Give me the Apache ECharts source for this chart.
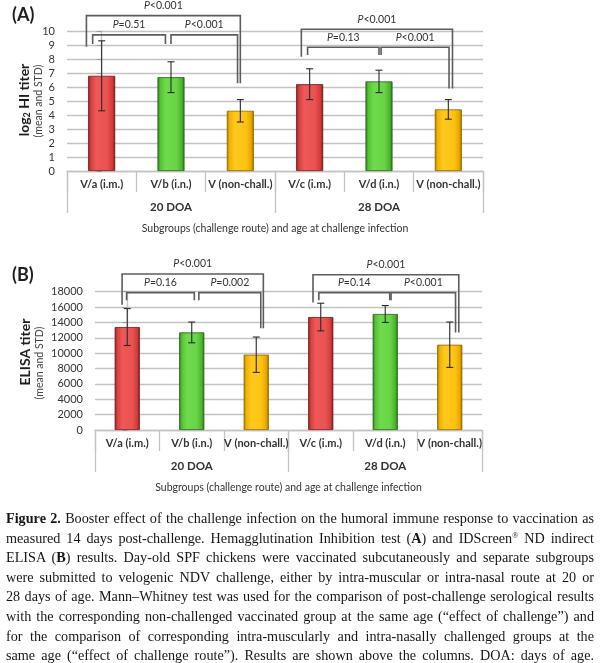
<!DOCTYPE html>
<html>
<head>
<meta charset="utf-8">
<script src="https://cdn.jsdelivr.net/npm/echarts@6/dist/echarts.min.js"></script>
<style>
html,body{margin:0;padding:0;background:#fff;}
#chart{position:absolute;left:0;top:0;width:600px;height:663px;}
#cap{position:absolute;left:6px;top:509px;width:588px;font-family:"Liberation Serif","DejaVu Serif",serif;font-size:14.2px;line-height:19.6px;color:#161616;}
#cap div{text-align:justify;text-align-last:justify;height:19.6px;overflow:visible;}
#cap sup{font-size:8px;line-height:0;vertical-align:5px;}
</style>
</head>
<body>
<div id="chart"></div>
<div id="cap">
<div><b>Figure 2.</b> Booster effect of the challenge infection on the humoral immune response to vaccination as</div>
<div>measured 14 days post-challenge. Hemagglutination Inhibition test (<b>A</b>) and IDScreen<sup>®</sup> ND indirect</div>
<div>ELISA (<b>B</b>) results. Day-old SPF chickens were vaccinated subcutaneously and separate subgroups</div>
<div>were submitted to velogenic NDV challenge, either by intra-muscular or intra-nasal route at 20 or</div>
<div>28 days of age. Mann–Whitney test was used for the comparison of post-challenge serological results</div>
<div>with the corresponding non-challenged vaccinated group at the same age (“effect of challenge”) and</div>
<div>for the comparison of corresponding intra-muscularly and intra-nasally challenged groups at the</div>
<div>same age (“effect of challenge route”). Results are shown above the columns. DOA: days of age.</div>
</div>
<script>
// ---------- data ----------
const categories = ['V/a (i.m.)', 'V/b (i.n.)', 'V (non-chall.)', 'V/c (i.m.)', 'V/d (i.n.)', 'V (non-chall.)'];
const groups = ['20 DOA', '28 DOA'];
const hiMean = [6.8, 6.7, 4.3, 6.2, 6.4, 4.4];
const hiStd = [2.5, 1.1, 0.8, 1.1, 0.8, 0.7];
const elisaMean = [13400, 12700, 9800, 14700, 15100, 11100];
const elisaStd = [2400, 1350, 2300, 1800, 1100, 2950];
const hiAxis = {min: 0, max: 10, interval: 1};
const elisaAxis = {min: 0, max: 18000, interval: 2000};
// comparison brackets: [x from, x to, bracket level, left leg end, right leg end] in data units
const hiBrackets = [
  [-0.22, 2.0, 11.1, 8.88, 6.27],
  [-0.13, 0.92, 9.72, 9.07, 9.07],
  [1.0, 1.96, 9.72, 9.07, 6.27],
  [2.88, 5.06, 10.12, 8.16, 5.9],
  [2.97, 4.0, 8.84, 8.29, 8.29],
  [4.03, 5.01, 8.84, 8.29, 5.9]
];
const hiPLabels = ['P<0.001', 'P=0.51', 'P<0.001', 'P<0.001', 'P=0.13', 'P<0.001'];
const elisaBrackets = [
  [-0.08, 2.11, 20300, 16300, 13250],
  [-0.01, 1.04, 17880, 16900, 16900],
  [1.11, 2.07, 17880, 16900, 13250],
  [2.88, 5.14, 20200, 16600, 12700],
  [2.97, 4.07, 17880, 16900, 16900],
  [4.09, 5.09, 17880, 16900, 12700]
];
const elisaPLabels = ['P<0.001', 'P=0.16', 'P=0.002', 'P<0.001', 'P=0.14', 'P<0.001'];

// ---------- styles ----------
const FONT = 'Lato, "Open Sans", sans-serif';
const TXT = '#333';
const GRID_C = '#c3c3c3';
function grad(stops) {
  return new echarts.graphic.LinearGradient(0, 0, 1, 0, stops.map((c) => ({offset: c[0], color: c[1]})));
}
const barFill = [
  grad([[0, '#8a1d1d'], [0.1, '#d63f3f'], [0.3, '#ef5858'], [0.7, '#eb5252'], [0.9, '#d03b3b'], [1, '#761818']]),
  grad([[0, '#2c761a'], [0.1, '#55c034'], [0.3, '#6ddb4c'], [0.7, '#67d547'], [0.9, '#4db22e'], [1, '#286a17']]),
  grad([[0, '#a47400'], [0.1, '#efb200'], [0.3, '#ffc81e'], [0.7, '#ffc412'], [0.9, '#e6a800'], [1, '#966b00']])
];
const barBorder = ['#6e1616', '#25611a', '#8e6500'];
const colorIdx = [0, 1, 2, 0, 1, 2];

function barData(means) {
  return means.map((v, i) => ({value: v, itemStyle: {color: barFill[colorIdx[i]], borderColor: barBorder[colorIdx[i]], borderWidth: 0.8}}));
}
function errData(means, stds) {
  return means.map((m, i) => [i, m - stds[i], m + stds[i]]);
}
function errRender(params, api) {
  const x = api.value(0);
  const lo = api.coord([x, api.value(1)]);
  const hi = api.coord([x, api.value(2)]);
  const cap = 3.5;
  const st = {stroke: '#2a2a2a', lineWidth: 1.1};
  return {type: 'group', children: [
    {type: 'line', shape: {x1: lo[0], y1: lo[1], x2: hi[0], y2: hi[1]}, style: st},
    {type: 'line', shape: {x1: hi[0] - cap, y1: hi[1], x2: hi[0] + cap, y2: hi[1]}, style: st},
    {type: 'line', shape: {x1: lo[0] - cap, y1: lo[1], x2: lo[0] + cap, y2: lo[1]}, style: st}
  ]};
}
function makeBracketRender(labels) {
  return function (params, api) {
    const x1 = api.value(0), x2 = api.value(1), y = api.value(2), yl = api.value(3), yr = api.value(4);
    const a = api.coord([x1, yl]), b = api.coord([x1, y]), c = api.coord([x2, y]), d = api.coord([x2, yr]);
    const lab = labels[params.dataIndex];
    return {type: 'group', children: [
      {type: 'polyline', shape: {points: [a, b, c, d]}, style: {stroke: '#5c5c5c', lineWidth: 1.6, fill: null}},
      {type: 'text', x: (b[0] + c[0]) / 2, y: b[1] - 10, style: {
        text: '{i|' + lab.charAt(0) + '}{n|' + lab.slice(1) + '}',
        align: 'center', verticalAlign: 'middle',
        rich: {i: {fontStyle: 'italic', fontSize: 10.5, fontFamily: FONT, fill: TXT}, n: {fontSize: 10.5, fontFamily: FONT, fill: TXT}}
      }}
    ]};
  };
}

function catAxis(gridIndex) {
  return {
    type: 'category', gridIndex, data: categories, position: 'bottom',
    axisLine: {show: true, lineStyle: {color: GRID_C, width: 1.3}},
    axisTick: {show: true, interval: 0, length: 21, lineStyle: {color: GRID_C, width: 1.3}},
    axisLabel: {interval: 0, margin: 8, color: TXT, fontFamily: FONT, fontWeight: 'bold', fontSize: 11}
  };
}
function groupAxis(gridIndex) {
  return {
    type: 'category', gridIndex, data: groups, position: 'bottom',
    axisLine: {show: false},
    axisTick: {show: true, interval: 0, length: 42, lineStyle: {color: GRID_C, width: 1.3}},
    axisLabel: {interval: 0, margin: 30, color: TXT, fontFamily: FONT, fontWeight: 'bold', fontSize: 11.5},
    name: 'Subgroups (challenge route) and age at challenge infection',
    nameLocation: 'middle', nameGap: 52,
    nameTextStyle: {color: TXT, fontFamily: FONT, fontSize: 10.5}
  };
}
function valAxisX(gridIndex) {
  return {type: 'value', gridIndex, min: -0.5, max: 5.5, show: false, splitLine: {show: false}};
}
function yAx(gridIndex, cfg) {
  return {
    type: 'value', gridIndex, min: cfg.min, max: cfg.max, interval: cfg.interval,
    axisLine: {show: true, lineStyle: {color: GRID_C, width: 1.3}},
    axisTick: {show: true, length: 5, lineStyle: {color: '#9a9a9a'}},
    axisLabel: {margin: 12, color: TXT, fontFamily: FONT, fontSize: 11, formatter: (v) => String(v)},
    splitLine: {show: true, lineStyle: {color: GRID_C, width: 1.4}}
  };
}

const chart = echarts.init(document.getElementById('chart'), null, {renderer: 'canvas'});
chart.setOption({
  animation: false,
  backgroundColor: '#fff',
  textStyle: {fontFamily: FONT},
  grid: [
    {left: 67, top: 31, width: 416, height: 140},
    {left: 95, top: 291.7, width: 387, height: 138.3}
  ],
  xAxis: [catAxis(0), groupAxis(0), valAxisX(0), catAxis(1), groupAxis(1), valAxisX(1)],
  yAxis: [yAx(0, hiAxis), yAx(1, elisaAxis)],
  series: [
    {type: 'bar', xAxisIndex: 0, yAxisIndex: 0, barWidth: '39%', data: barData(hiMean)},
    {type: 'custom', xAxisIndex: 2, yAxisIndex: 0, clip: false, renderItem: errRender, data: errData(hiMean, hiStd), z: 5},
    {type: 'custom', xAxisIndex: 2, yAxisIndex: 0, clip: false, renderItem: makeBracketRender(hiPLabels), data: hiBrackets, z: 6},
    {type: 'bar', xAxisIndex: 3, yAxisIndex: 1, barWidth: '39%', data: barData(elisaMean)},
    {type: 'custom', xAxisIndex: 5, yAxisIndex: 1, clip: false, renderItem: errRender, data: errData(elisaMean, elisaStd), z: 5},
    {type: 'custom', xAxisIndex: 5, yAxisIndex: 1, clip: false, renderItem: makeBracketRender(elisaPLabels), data: elisaBrackets, z: 6}
  ],
  graphic: [
    {type: 'text', x: 12, y: 15, style: {text: '(A)', font: 'bold 18px ' + FONT, fill: '#1e1e1e', verticalAlign: 'middle'}},
    {type: 'text', x: 12, y: 275, style: {text: '(B)', font: 'bold 18px ' + FONT, fill: '#1e1e1e', verticalAlign: 'middle'}},
    {type: 'text', x: 24, y: 100, rotation: Math.PI / 2, style: {
      text: '{b|log}{s|2}{b| HI titer}', align: 'center', verticalAlign: 'middle',
      rich: {b: {fontSize: 14, fontWeight: 'bold', fontFamily: FONT, fill: '#1e1e1e'},
             s: {fontSize: 9, fontWeight: 'bold', fontFamily: FONT, fill: '#1e1e1e', padding: [6, 0, 0, 0]}}}},
    {type: 'text', x: 38.5, y: 101, rotation: Math.PI / 2, style: {text: '(mean and STD)', align: 'center', verticalAlign: 'middle', font: '10.5px ' + FONT, fill: '#444'}},
    {type: 'text', x: 25.5, y: 352, rotation: Math.PI / 2, style: {text: 'ELISA titer', align: 'center', verticalAlign: 'middle', font: 'bold 14px ' + FONT, fill: '#1e1e1e'}},
    {type: 'text', x: 39.5, y: 363, rotation: Math.PI / 2, style: {text: '(mean and STD)', align: 'center', verticalAlign: 'middle', font: '10.5px ' + FONT, fill: '#444'}}
  ]
});
</script>
</body>
</html>
